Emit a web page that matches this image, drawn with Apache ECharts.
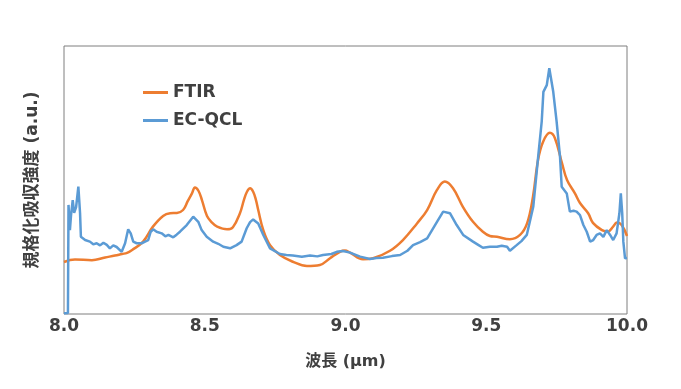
<!DOCTYPE html>
<html><head><meta charset="utf-8">
<script src="https://cdn.jsdelivr.net/npm/echarts@6/dist/echarts.min.js"></script>
<style>html,body{margin:0;padding:0;background:#fff;}#c{width:681px;height:389px;}</style>
</head><body><div id="c"></div>
<script>
var xTicks = [8.0, 8.5, 9.0, 9.5, 10.0];

var ftirX = [8.000,8.039,8.099,8.146,8.181,8.206,8.224,8.242,8.281,8.316,8.352,8.377,8.401,8.423,8.440,8.455,8.465,8.478,8.490,8.508,8.526,8.544,8.579,8.600,8.625,8.639,8.650,8.661,8.672,8.682,8.690,8.708,8.732,8.767,8.813,8.863,8.909,8.945,8.980,8.998,9.016,9.062,9.098,9.158,9.204,9.254,9.290,9.325,9.353,9.382,9.417,9.453,9.488,9.513,9.538,9.584,9.620,9.645,9.666,9.684,9.702,9.726,9.744,9.769,9.787,9.815,9.833,9.862,9.879,9.911,9.932,9.950,9.964,9.981,10.000];
var ftirY = [19.4,20.3,20.1,21.1,21.8,22.4,22.8,23.9,27.0,32.6,36.6,37.6,37.7,38.8,42.2,45.1,47.2,45.9,42.5,36.6,34.1,32.6,31.6,32.4,37.6,42.5,45.6,46.9,45.6,42.5,38.8,31.3,25.7,22.0,19.5,17.9,18.3,20.8,23.2,23.7,22.9,20.4,20.8,23.6,27.6,33.8,38.8,46.3,49.4,46.9,40.0,34.4,30.7,29.1,28.8,27.9,29.5,33.8,43.8,57.5,64.3,67.6,65.6,56.3,50.0,45.0,41.4,37.6,34.0,31.3,30.7,32.5,34.1,33.2,29.1];

var qclX = [8.000,8.014,8.016,8.021,8.025,8.031,8.036,8.043,8.051,8.057,8.060,8.075,8.092,8.104,8.116,8.128,8.140,8.152,8.163,8.175,8.187,8.205,8.217,8.228,8.237,8.246,8.258,8.276,8.288,8.299,8.308,8.317,8.329,8.347,8.360,8.371,8.388,8.400,8.412,8.436,8.459,8.477,8.489,8.507,8.530,8.548,8.566,8.590,8.613,8.631,8.649,8.661,8.672,8.690,8.708,8.732,8.767,8.790,8.813,8.845,8.874,8.900,8.920,8.950,8.969,8.991,9.016,9.052,9.087,9.110,9.133,9.165,9.194,9.220,9.240,9.265,9.290,9.325,9.347,9.371,9.395,9.418,9.453,9.470,9.488,9.513,9.538,9.555,9.574,9.584,9.608,9.625,9.644,9.667,9.685,9.697,9.703,9.715,9.724,9.728,9.738,9.750,9.762,9.768,9.786,9.797,9.810,9.821,9.833,9.845,9.857,9.869,9.880,9.892,9.904,9.916,9.928,9.940,9.951,9.963,9.973,9.978,9.983,9.987,9.993,10.000];
var qclY = [0.3,0.4,40.7,31.3,36.9,42.5,37.7,39.9,47.5,37.7,28.8,27.6,27.0,26.0,26.4,25.6,26.6,25.8,24.5,25.6,25.0,23.2,26.4,31.6,30.1,27.0,26.4,26.4,27.0,27.6,30.7,31.6,30.7,30.1,29.0,29.5,28.6,29.6,30.7,33.2,36.3,34.4,31.3,28.8,27.0,26.2,25.1,24.5,25.7,27.0,32.0,34.3,35.3,33.8,29.5,24.5,22.4,22.0,21.8,21.4,21.8,21.5,22.0,22.4,23.2,23.5,22.9,21.4,20.5,20.9,21.0,21.6,22.0,23.6,25.7,26.8,28.2,34.4,38.2,37.6,33.2,29.5,27.0,25.9,24.7,25.1,25.1,25.5,25.1,23.6,25.7,27.2,29.5,40.0,59.3,71.8,82.9,85.4,91.7,89.2,82.9,71.8,58.7,47.5,45.0,38.2,38.5,38.2,36.9,33.2,30.7,27.0,27.6,29.5,30.1,28.8,31.3,29.5,27.6,30.1,37.6,45.0,37.6,27.0,20.8,20.9];

function pairs(xs, ys){ return xs.map(function(x,i){ return [x, ys[i]]; }); }

var FONT = '"DejaVu Sans", "Noto Sans CJK JP", sans-serif';
var TXT = '#404040';
var chart = echarts.init(document.getElementById('c'));
chart.setOption({
  animation: false,
  grid: {left: 64, right: 54, top: 46, bottom: 75, show: true, borderColor: '#7f7f7f', borderWidth: 1, containLabel: false},
  legend: {
    orient: 'vertical', left: 143, top: 84, padding: 0, itemWidth: 25, itemHeight: 3, itemGap: 11, itemTextGap: 3,
    textStyle: {fontFamily: FONT, fontSize: 17, fontWeight: 'bold', color: TXT},
    data: [{name: 'FTIR', icon: 'rect'}, {name: 'EC-QCL', icon: 'rect'}]
  },
  xAxis: {
    type: 'value', min: xTicks[0], max: xTicks[xTicks.length-1], interval: 0.5,
    name: '波長 (μm)', nameLocation: 'middle', nameGap: 40,
    nameTextStyle: {fontFamily: FONT, fontSize: 16, fontWeight: 'bold', color: TXT},
    axisLine: {show: false}, axisTick: {show: false}, splitLine: {show: false},
    axisLabel: {margin: 4, fontFamily: FONT, fontSize: 17, fontWeight: 'bold', color: TXT,
      formatter: function(v){ return v.toFixed(1); }}
  },
  yAxis: {
    type: 'value', min: 0, max: 100,
    name: '規格化吸収強度 (a.u.)', nameLocation: 'middle', nameGap: 23, nameRotate: 90,
    nameTextStyle: {fontFamily: FONT, fontSize: 17, fontWeight: 'bold', color: TXT},
    axisLine: {show: false}, axisTick: {show: false}, splitLine: {show: false}, axisLabel: {show: false}
  },
  series: [
    {name: 'FTIR', type: 'line', data: pairs(ftirX, ftirY), smooth: 0.4, symbol: 'none',
     lineStyle: {color: '#ED7D31', width: 2.5}, itemStyle: {color: '#ED7D31'}, z: 2},
    {name: 'EC-QCL', type: 'line', data: pairs(qclX, qclY), smooth: false, symbol: 'none',
     lineStyle: {color: '#5B9BD5', width: 2.5}, itemStyle: {color: '#5B9BD5'}, z: 3}
  ]
});
</script></body></html>
